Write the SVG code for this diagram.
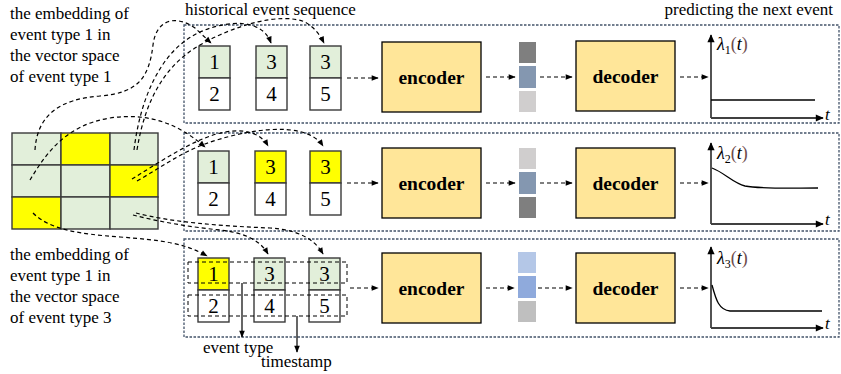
<svg xmlns="http://www.w3.org/2000/svg" width="841" height="374" viewBox="0 0 841 374">
<defs>
<marker id="ah" viewBox="0 0 10 10" refX="9" refY="5" markerWidth="8" markerHeight="7" markerUnits="userSpaceOnUse" orient="auto"><path d="M0,1 L10,5 L0,9 z" fill="#000"/></marker>
<marker id="ax" viewBox="0 0 10 10" refX="9" refY="5" markerWidth="9" markerHeight="8" markerUnits="userSpaceOnUse" orient="auto"><path d="M0,0.5 L10,5 L0,9.5 z" fill="#000"/></marker>
<style>
.panel{fill:none;stroke:#44546A;stroke-width:1.3;stroke-dasharray:2.5 1.5}
.conn{fill:none;stroke:#000;stroke-width:1.2;stroke-dasharray:4 3;marker-end:url(#ah)}
.grp{fill:none;stroke:#000;stroke-width:1;stroke-dasharray:4 3}
.g{fill:#E2EFDA;stroke:#3a3a3a;stroke-width:1.4}
.y{fill:#FFFF00;stroke:#3a3a3a;stroke-width:1.4}
.w{fill:#fff;stroke:#3a3a3a;stroke-width:1.4}
.box{fill:#FFE699;stroke:#000;stroke-width:1.3}
.axis{fill:none;stroke:#404040;stroke-width:1.8;marker-end:url(#ax)}
.curve{fill:none;stroke:#000;stroke-width:1.3}
.solid{fill:none;stroke:#000;stroke-width:1.2;marker-end:url(#ah)}
</style>
</defs>

<g id="label-top-left">
<text font-family="Times New Roman" font-size="17" x="10" y="19">the embedding of</text>
<text font-family="Times New Roman" font-size="17" x="10" y="40">event type 1 in</text>
<text font-family="Times New Roman" font-size="17" x="10" y="61">the vector space</text>
<text font-family="Times New Roman" font-size="17" x="10" y="82">of event type 1</text>
</g>
<g id="label-bottom-left">
<text font-family="Times New Roman" font-size="17" x="10" y="260">the embedding of</text>
<text font-family="Times New Roman" font-size="17" x="10" y="281">event type 1 in</text>
<text font-family="Times New Roman" font-size="17" x="10" y="302">the vector space</text>
<text font-family="Times New Roman" font-size="17" x="10" y="323">of event type 3</text>
</g>
<text font-family="Times New Roman" font-size="17" x="185" y="15">historical event sequence</text>
<text font-family="Times New Roman" font-size="17" x="833" y="15" text-anchor="end">predicting the next event</text>

<g id="panels">
<rect class="panel" x="184" y="25" width="655" height="98"/>
<rect class="panel" x="184" y="133" width="655" height="98"/>
<rect class="panel" x="184" y="239" width="655" height="98"/>
</g>

<g id="grid">
<rect class="g" x="12" y="133" width="49" height="32"/>
<rect class="y" x="61" y="133" width="49" height="32"/>
<rect class="g" x="110" y="133" width="48" height="32"/>
<rect class="g" x="12" y="165" width="49" height="32"/>
<rect class="g" x="61" y="165" width="49" height="32"/>
<rect class="y" x="110" y="165" width="48" height="32"/>
<rect class="y" x="12" y="197" width="49" height="32"/>
<rect class="g" x="61" y="197" width="49" height="32"/>
<rect class="g" x="110" y="197" width="48" height="32"/>
</g>

<g id="seq1">
<rect class="g" x="199" y="46" width="31" height="32"/><rect class="w" x="199" y="78" width="31" height="32"/>
<rect class="g" x="256" y="46" width="31" height="32"/><rect class="w" x="256" y="78" width="31" height="32"/>
<rect class="g" x="310" y="46" width="31" height="32"/><rect class="w" x="310" y="78" width="31" height="32"/>
<text font-family="Times New Roman" font-size="21" text-anchor="middle" x="214.5" y="69">1</text><text font-family="Times New Roman" font-size="21" text-anchor="middle" x="214.5" y="101">2</text>
<text font-family="Times New Roman" font-size="21" text-anchor="middle" x="271.5" y="69">3</text><text font-family="Times New Roman" font-size="21" text-anchor="middle" x="271.5" y="101">4</text>
<text font-family="Times New Roman" font-size="21" text-anchor="middle" x="325.5" y="69">3</text><text font-family="Times New Roman" font-size="21" text-anchor="middle" x="325.5" y="101">5</text>
</g>
<g id="seq2">
<rect class="g" x="198" y="151" width="31" height="32"/><rect class="w" x="198" y="183" width="31" height="32"/>
<rect class="y" x="255" y="151" width="31" height="32"/><rect class="w" x="255" y="183" width="31" height="32"/>
<rect class="y" x="310" y="151" width="31" height="32"/><rect class="w" x="310" y="183" width="31" height="32"/>
<text font-family="Times New Roman" font-size="21" text-anchor="middle" x="213.5" y="174">1</text><text font-family="Times New Roman" font-size="21" text-anchor="middle" x="213.5" y="206">2</text>
<text font-family="Times New Roman" font-size="21" text-anchor="middle" x="270.5" y="174">3</text><text font-family="Times New Roman" font-size="21" text-anchor="middle" x="270.5" y="206">4</text>
<text font-family="Times New Roman" font-size="21" text-anchor="middle" x="325.5" y="174">3</text><text font-family="Times New Roman" font-size="21" text-anchor="middle" x="325.5" y="206">5</text>
</g>
<g id="seq3">
<rect class="y" x="198" y="258" width="31" height="32"/><rect class="w" x="198" y="290" width="31" height="32"/>
<rect class="g" x="254" y="258" width="31" height="32"/><rect class="w" x="254" y="290" width="31" height="32"/>
<rect class="g" x="309" y="258" width="31" height="32"/><rect class="w" x="309" y="290" width="31" height="32"/>
<text font-family="Times New Roman" font-size="21" text-anchor="middle" x="213.5" y="281">1</text><text font-family="Times New Roman" font-size="21" text-anchor="middle" x="213.5" y="313">2</text>
<text font-family="Times New Roman" font-size="21" text-anchor="middle" x="269.5" y="281">3</text><text font-family="Times New Roman" font-size="21" text-anchor="middle" x="269.5" y="313">4</text>
<text font-family="Times New Roman" font-size="21" text-anchor="middle" x="324.5" y="281">3</text><text font-family="Times New Roman" font-size="21" text-anchor="middle" x="324.5" y="313">5</text>
<rect class="grp" x="188" y="262" width="159" height="21"/>
<rect class="grp" x="188" y="295" width="159" height="21"/>
</g>
<g id="legend-arrows">
<path class="solid" d="M242,283 V337"/>
<path class="solid" d="M297,316 V352"/>
<text font-family="Times New Roman" font-size="17" x="203" y="353">event type</text>
<text font-family="Times New Roman" font-size="17" x="261" y="367">timestamp</text>
</g>

<g id="enc1"><rect class="box" x="382" y="42" width="99" height="70"/><text font-family="Times New Roman" font-size="19.5" font-weight="bold" text-anchor="middle" x="431.5" y="84">encoder</text></g>
<g id="enc2"><rect class="box" x="382" y="148" width="99" height="70"/><text font-family="Times New Roman" font-size="19.5" font-weight="bold" text-anchor="middle" x="431.5" y="190">encoder</text></g>
<g id="enc3"><rect class="box" x="382" y="253" width="99" height="70"/><text font-family="Times New Roman" font-size="19.5" font-weight="bold" text-anchor="middle" x="431.5" y="295">encoder</text></g>

<g id="vec1"><rect x="519" y="42" width="17" height="21" fill="#7F7F7F"/><rect x="519" y="66" width="17" height="22" fill="#8497B0"/><rect x="519" y="91" width="17" height="21" fill="#D0CECE"/></g>
<g id="vec2"><rect x="519" y="148" width="17" height="21" fill="#D0CECE"/><rect x="519" y="172" width="17" height="22" fill="#8497B0"/><rect x="519" y="197" width="17" height="21" fill="#7F7F7F"/></g>
<g id="vec3"><rect x="518" y="252" width="18" height="21" fill="#B4C7E7"/><rect x="518" y="276" width="18" height="22" fill="#8FAADC"/><rect x="518" y="301" width="18" height="21" fill="#BFBFBF"/></g>

<g id="dec1"><rect class="box" x="576" y="41" width="99" height="70"/><text font-family="Times New Roman" font-size="19.5" font-weight="bold" text-anchor="middle" x="625.5" y="83">decoder</text></g>
<g id="dec2"><rect class="box" x="576" y="148" width="99" height="70"/><text font-family="Times New Roman" font-size="19.5" font-weight="bold" text-anchor="middle" x="625.5" y="190">decoder</text></g>
<g id="dec3"><rect class="box" x="576" y="253" width="99" height="70"/><text font-family="Times New Roman" font-size="19.5" font-weight="bold" text-anchor="middle" x="625.5" y="295">decoder</text></g>

<g id="chart1">
<path class="axis" d="M711,118 V35"/><path class="axis" d="M711,118 H823"/>
<path class="curve" d="M711,100 H815"/>
<text font-family="Times New Roman" font-size="18" font-style="italic" x="717" y="50">λ<tspan font-size="12" font-style="normal" dy="4">1</tspan><tspan fill="#6E4B4B" font-style="normal" dy="-4">(</tspan>t<tspan fill="#6E4B4B" font-style="normal">)</tspan></text>
<text font-family="Times New Roman" font-size="17" font-style="italic" x="825" y="120">t</text>
</g>
<g id="chart2">
<path class="axis" d="M711,224 V143"/><path class="axis" d="M711,224 H823"/>
<path class="curve" d="M712,168 C725,173 733,183 745,186 C760,189 790,188 818,188"/>
<text font-family="Times New Roman" font-size="18" font-style="italic" x="717" y="159">λ<tspan font-size="12" font-style="normal" dy="4">2</tspan><tspan fill="#6E4B4B" font-style="normal" dy="-4">(</tspan>t<tspan fill="#6E4B4B" font-style="normal">)</tspan></text>
<text font-family="Times New Roman" font-size="17" font-style="italic" x="825" y="225">t</text>
</g>
<g id="chart3">
<path class="axis" d="M711,328 V247"/><path class="axis" d="M711,328 H823"/>
<path class="curve" d="M712,285 C716,300 719,310 730,311 L822,311"/>
<text font-family="Times New Roman" font-size="18" font-style="italic" x="717" y="264">λ<tspan font-size="12" font-style="normal" dy="4">3</tspan><tspan fill="#6E4B4B" font-style="normal" dy="-4">(</tspan>t<tspan fill="#6E4B4B" font-style="normal">)</tspan></text>
<text font-family="Times New Roman" font-size="17" font-style="italic" x="825" y="329">t</text>
</g>

<g id="connectors">
<path class="conn" d="M347,78 H378"/>
<path class="conn" d="M486,77 H515"/>
<path class="conn" d="M540,77 H572"/>
<path class="conn" d="M680,77 H708"/>
<path class="conn" d="M347,183 H378"/>
<path class="conn" d="M486,183 H515"/>
<path class="conn" d="M540,183 H572"/>
<path class="conn" d="M680,183 H708"/>
<path class="conn" d="M350,288 H378"/>
<path class="conn" d="M486,288 H514"/>
<path class="conn" d="M538,288 H572"/>
<path class="conn" d="M680,288 H708"/>
<path class="conn" d="M35,150 C37,115 60,99 100,96 C138,93 149,78 153,45 C156,20 175,14 195,28 L211,43"/>
<path class="conn" d="M134,150 C140,100 160,50 200,32 C228,20 262,18 271,43"/>
<path class="conn" d="M137,150 C145,100 165,65 200,45 C235,25 280,12 305,22 C315,28 320,35 324,43"/>
<path class="conn" d="M30,180 C45,155 65,125 110,118 C150,112 180,125 205,147"/>
<path class="conn" d="M132,179 C155,165 180,148 205,138 C232,127 258,128 268,146"/>
<path class="conn" d="M137,181 C160,168 180,153 205,144 C240,131 305,118 323,146"/>
<path class="conn" d="M33,213 C50,230 80,234 120,237 C160,240 185,243 207,256"/>
<path class="conn" d="M133,215 C160,222 190,227 220,230 C245,233 260,240 268,254"/>
<path class="conn" d="M136,213 C170,222 220,226 270,228 C300,230 315,240 323,254"/>
</g>
</svg>
